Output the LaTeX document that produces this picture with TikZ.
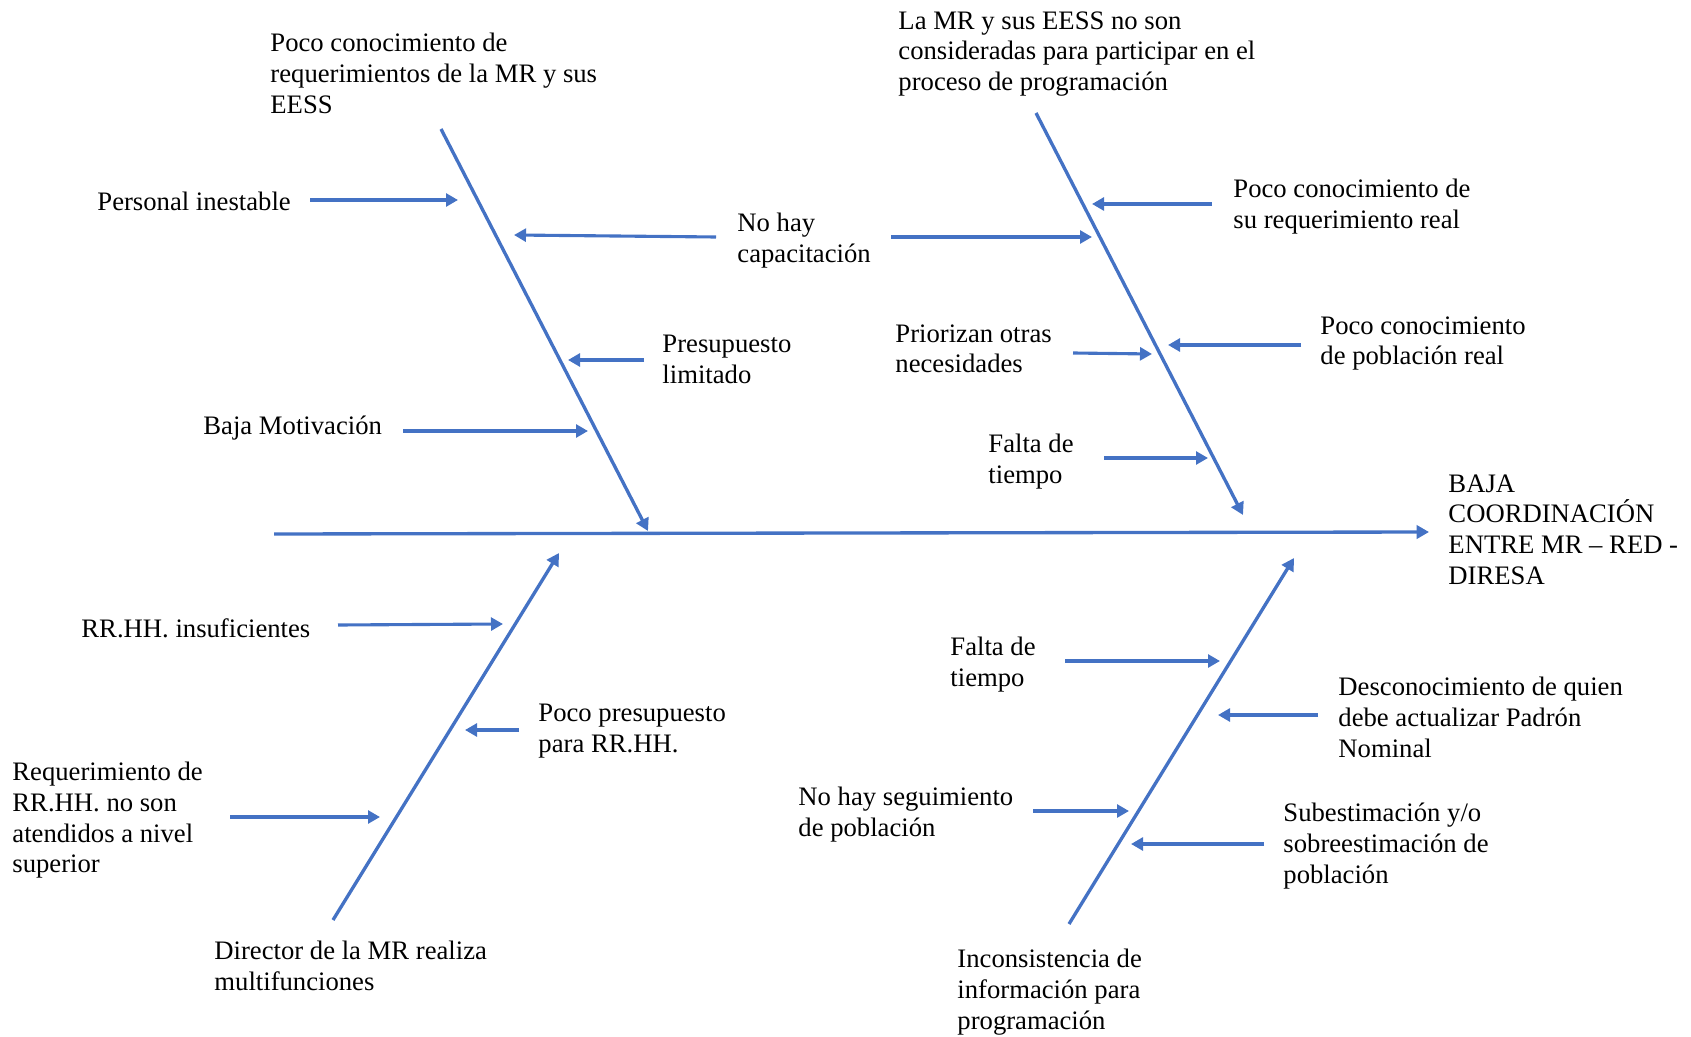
\documentclass[tikz,border=0pt]{standalone}
\usepackage{fontspec}
\setmainfont{Liberation Serif}
\usepackage{xcolor}
\usetikzlibrary{arrows.meta, positioning}
\definecolor{boneblue}{HTML}{4472C4}

\begin{document}
\begin{tikzpicture}[x=0.45pt, y=-0.45pt,
    causetext/.style={anchor=north west, align=left, inner sep=0pt, font=\fontsize{12}{13.8}\selectfont},
    bone/.style={draw=boneblue, line width=1.5pt, -{Triangle[length=5.6pt,width=6pt]}},
    arrow/.style={draw=boneblue, line width=1.4pt, -{Triangle[length=5.4pt,width=5.8pt]}}]

    \useasboundingbox (0,0) rectangle (1691,1037);

    % Spine and head
    \coordinate (spine-start) at (274,534);
    \coordinate (spine-end) at (1429,532);
    \node [causetext] (effect) at (1448,474) {BAJA\\COORDINACIÓN\\ENTRE MR – RED -\\DIRESA};
    \draw [bone] (spine-start) -- (spine-end);

    % Bones
    \coordinate (ul-top) at (441,129);  \coordinate (ul-tip) at (648,531);
    \coordinate (ur-top) at (1036,113); \coordinate (ur-tip) at (1243,515);
    \coordinate (ll-foot) at (333,920); \coordinate (ll-tip) at (559,553);
    \coordinate (lr-foot) at (1069,924); \coordinate (lr-tip) at (1294,558);
    \draw [bone] (ul-top) -- (ul-tip);
    \draw [bone] (ur-top) -- (ur-tip);
    \draw [bone] (ll-foot) -- (ll-tip);
    \draw [bone] (lr-foot) -- (lr-tip);

    % Upper left bone
    \node [causetext] (reqmr) at (270,33) {Poco conocimiento de\\requerimientos de la MR y sus\\EESS};
    \node [causetext] (personal) at (97,192) {Personal inestable};
    \node [causetext] (capacit) at (737,213) {No hay\\capacitación};
    \node [causetext] (presup) at (662,335) {Presupuesto\\limitado};
    \node [causetext] (motiv) at (203,416) {Baja Motivación};

    \coordinate (personal-a) at (310,200);  \coordinate (personal-b) at (458,200);
    \coordinate (capacit-a) at (716,237);   \coordinate (capacit-b) at (514,235);
    \coordinate (capacit-c) at (891,237);   \coordinate (capacit-d) at (1092,237);
    \coordinate (presup-a) at (644,360);    \coordinate (presup-b) at (568,360);
    \coordinate (motiv-a) at (403,431);     \coordinate (motiv-b) at (588,431);
    \draw [arrow] (personal-a) -- (personal-b);
    \draw [arrow] (capacit-a) -- (capacit-b);
    \draw [arrow] (capacit-c) -- (capacit-d);
    \draw [arrow] (presup-a) -- (presup-b);
    \draw [arrow] (motiv-a) -- (motiv-b);

    % Upper right bone
    \node [causetext] (participa) at (898,11) {La MR y sus EESS no son\\consideradas para participar en el\\proceso de programación};
    \node [causetext] (reqreal) at (1233,179) {Poco conocimiento de\\su requerimiento real};
    \node [causetext] (prioriz) at (895,324) {Priorizan otras\\necesidades};
    \node [causetext] (pobreal) at (1320,316) {Poco conocimiento\\de población real};
    \node [causetext] (tiempo1) at (988,434) {Falta de\\tiempo};

    \coordinate (reqreal-a) at (1212,204);  \coordinate (reqreal-b) at (1092,204);
    \coordinate (prioriz-a) at (1073,353);  \coordinate (prioriz-b) at (1152,354);
    \coordinate (pobreal-a) at (1301,345);  \coordinate (pobreal-b) at (1168,345);
    \coordinate (tiempo1-a) at (1104,458);  \coordinate (tiempo1-b) at (1208,458);
    \draw [arrow] (reqreal-a) -- (reqreal-b);
    \draw [arrow] (prioriz-a) -- (prioriz-b);
    \draw [arrow] (pobreal-a) -- (pobreal-b);
    \draw [arrow] (tiempo1-a) -- (tiempo1-b);

    % Lower left bone
    \node [causetext] (rrhh) at (81,618) {RR.HH. insuficientes};
    \node [causetext] (pocopres) at (538,704) {Poco presupuesto\\para RR.HH.};
    \node [causetext] (atendidos) at (12,762) {Requerimiento de\\RR.HH. no son\\atendidos a nivel\\superior};
    \node [causetext] (director) at (214,941) {Director de la MR realiza\\multifunciones};

    \coordinate (rrhh-a) at (338,625);      \coordinate (rrhh-b) at (503,624);
    \coordinate (pocopres-a) at (519,730);  \coordinate (pocopres-b) at (465,730);
    \coordinate (atendidos-a) at (230,817); \coordinate (atendidos-b) at (380,817);
    \draw [arrow] (rrhh-a) -- (rrhh-b);
    \draw [arrow] (pocopres-a) -- (pocopres-b);
    \draw [arrow] (atendidos-a) -- (atendidos-b);

    % Lower right bone
    \node [causetext] (tiempo2) at (950,637) {Falta de\\tiempo};
    \node [causetext] (padron) at (1338,677) {Desconocimiento de quien\\debe actualizar Padrón\\Nominal};
    \node [causetext] (seguim) at (798,787) {No hay seguimiento\\de población};
    \node [causetext] (subest) at (1283,803) {Subestimación y/o\\sobreestimación de\\población};
    \node [causetext] (incons) at (957,949) {Inconsistencia de\\información para\\programación};

    \coordinate (tiempo2-a) at (1065,661);  \coordinate (tiempo2-b) at (1220,661);
    \coordinate (padron-a) at (1318,715);   \coordinate (padron-b) at (1218,715);
    \coordinate (seguim-a) at (1033,811);   \coordinate (seguim-b) at (1129,811);
    \coordinate (subest-a) at (1264,844);   \coordinate (subest-b) at (1131,844);
    \draw [arrow] (tiempo2-a) -- (tiempo2-b);
    \draw [arrow] (padron-a) -- (padron-b);
    \draw [arrow] (seguim-a) -- (seguim-b);
    \draw [arrow] (subest-a) -- (subest-b);
\end{tikzpicture}
\end{document}
